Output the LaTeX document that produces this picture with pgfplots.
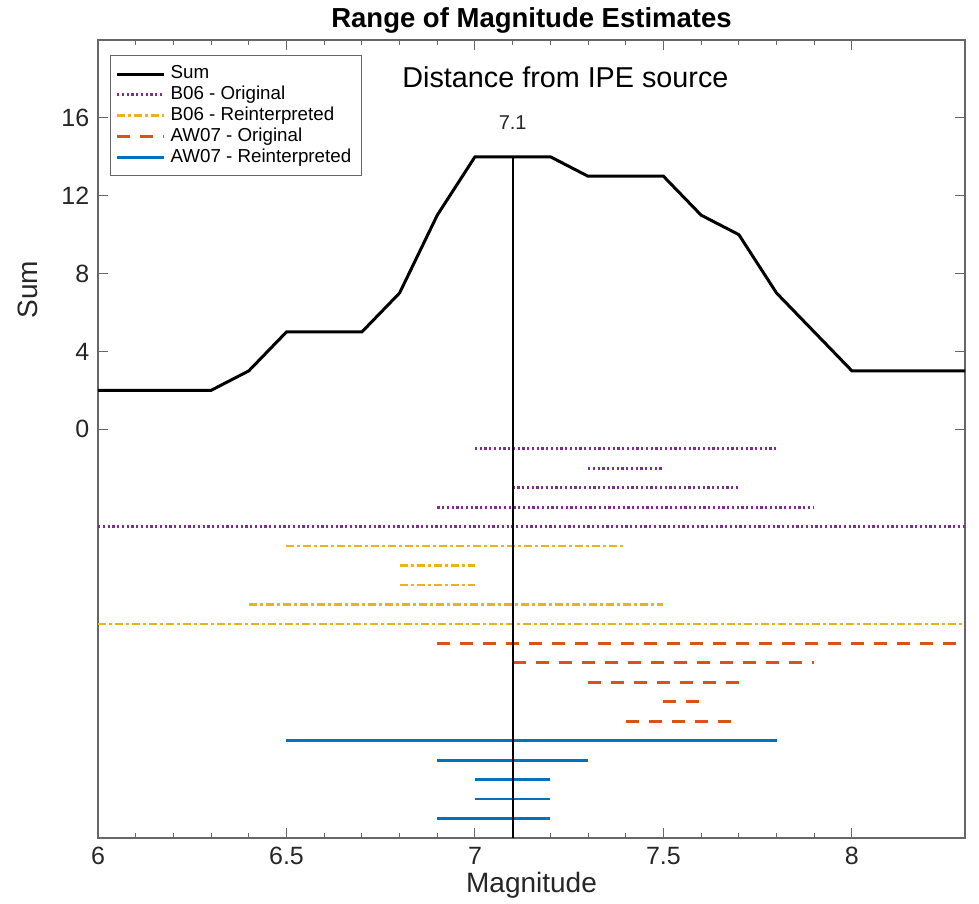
\documentclass[border=0pt]{standalone}
\usepackage{fontspec}
\setmainfont{Liberation Sans}
\usepackage{pgfplots}
\pgfplotsset{compat=1.18}
\definecolor{mpurple}{RGB}{126,47,142}
\definecolor{myellow}{RGB}{237,177,32}
\definecolor{morange}{RGB}{217,83,25}
\definecolor{mblue}{RGB}{0,114,189}
\definecolor{axgray}{RGB}{38,38,38}
\begin{document}
\begin{tikzpicture}
\begin{axis}[
  name=ax,
  scale only axis,
  width=346.8pt, height=319.2pt,
  xmin=6, xmax=8.3, ymin=-21, ymax=20,
  xtick={6,6.5,7,7.5,8},
  xticklabels={6,6.5,7,7.5,8},
  minor x tick num=4,
  ytick={0,4,8,12,16},
  tick align=inside,
  major tick length=4pt, minor tick length=2pt,
  tick style={axgray!70, line width=0.4pt},
  axis line style={axgray!70, line width=0.5pt},
  ticklabel style={font=\fontsize{10}{12}\selectfont, text=axgray},
  /pgf/number format/assume math mode=true,
  xlabel={Magnitude}, ylabel={Sum},
  label style={font=\fontsize{11.2}{13}\selectfont, text=axgray},
  xlabel style={at={(rel axis cs:0.5,0)}, anchor=center, yshift=-18.8pt},
  ylabel style={at={([xshift=-28pt]rel axis cs:0,0.687)}, anchor=center},
  title={\textbf{Range of Magnitude Estimates}},
  every axis title shift=0pt,
  title style={font=\fontsize{11}{13}\selectfont, at={(rel axis cs:0.5,1)}, anchor=base, yshift=4.8pt},
  unbounded coords=jump,
  legend style={at={(0.014,0.981)}, anchor=north west, font=\fontsize{7.5}{8.5}\selectfont,
                draw=axgray!70, row sep=-2.6pt, inner sep=2pt},
  legend cell align=left,
  legend image post style={xscale=1.1},
]
\addplot[black, line width=1.2pt] coordinates {
  (6,2) (6.3,2) (6.4,3) (6.5,5) (6.7,5) (6.8,7) (6.9,11) (7.0,14) (7.2,14)
  (7.3,13) (7.5,13) (7.6,11) (7.7,10) (7.8,7) (7.9,5) (8.0,3) (8.3,3)
};
\addlegendentry{Sum}
\addplot[mpurple, line width=1.1pt, dash pattern=on 0.9pt off 1pt] coordinates {
  (7.0,-1) (7.8,-1) (7.0,nan)
  (7.3,-2) (7.5,-2) (7.3,nan)
  (7.1,-3) (7.7,-3) (7.1,nan)
  (6.9,-4) (7.9,-4) (6.9,nan)
  (6.0,-5) (8.3,-5)
};
\addlegendentry{B06 - Original}
\addplot[myellow, line width=1.1pt, dash pattern=on 3.2pt off 1.2pt on 1.2pt off 1.2pt] coordinates {
  (6.5,-6) (7.4,-6) (6.5,nan)
  (6.8,-7) (7.0,-7) (6.8,nan)
  (6.8,-8) (7.0,-8) (6.8,nan)
  (6.4,-9) (7.5,-9) (6.4,nan)
  (6.0,-10) (8.3,-10)
};
\addlegendentry{B06 - Reinterpreted}
\addplot[morange, line width=1.1pt, dash pattern=on 5.2pt off 4pt] coordinates {
  (6.9,-11) (8.3,-11) (6.9,nan)
  (7.1,-12) (7.9,-12) (7.1,nan)
  (7.3,-13) (7.7,-13) (7.3,nan)
  (7.5,-14) (7.6,-14) (7.5,nan)
  (7.4,-15) (7.7,-15)
};
\addlegendentry{AW07 - Original}
\addplot[mblue, line width=1.1pt] coordinates {
  (6.5,-16) (7.8,-16) (6.5,nan)
  (6.9,-17) (7.3,-17) (6.9,nan)
  (7.0,-18) (7.2,-18) (7.0,nan)
  (7.0,-19) (7.2,-19) (7.0,nan)
  (6.9,-20) (7.2,-20)
};
\addlegendentry{AW07 - Reinterpreted}
\addplot[black, line width=0.8pt, forget plot] coordinates {(7.1,14) (7.1,-21)};
\node[anchor=south, font=\fontsize{8}{9}\selectfont, text=axgray] at (axis cs:7.1,14.95) {7.1};
\node[font=\fontsize{11.5}{13}\selectfont] at (axis cs:7.24,18.1) {Distance from IPE source};
\end{axis}
\pgfresetboundingbox
\path[use as bounding box] ([xshift=-39.2pt,yshift=-26pt]ax.south west) rectangle ([xshift=5.6pt,yshift=16pt]ax.north east);
\end{tikzpicture}
\end{document}
